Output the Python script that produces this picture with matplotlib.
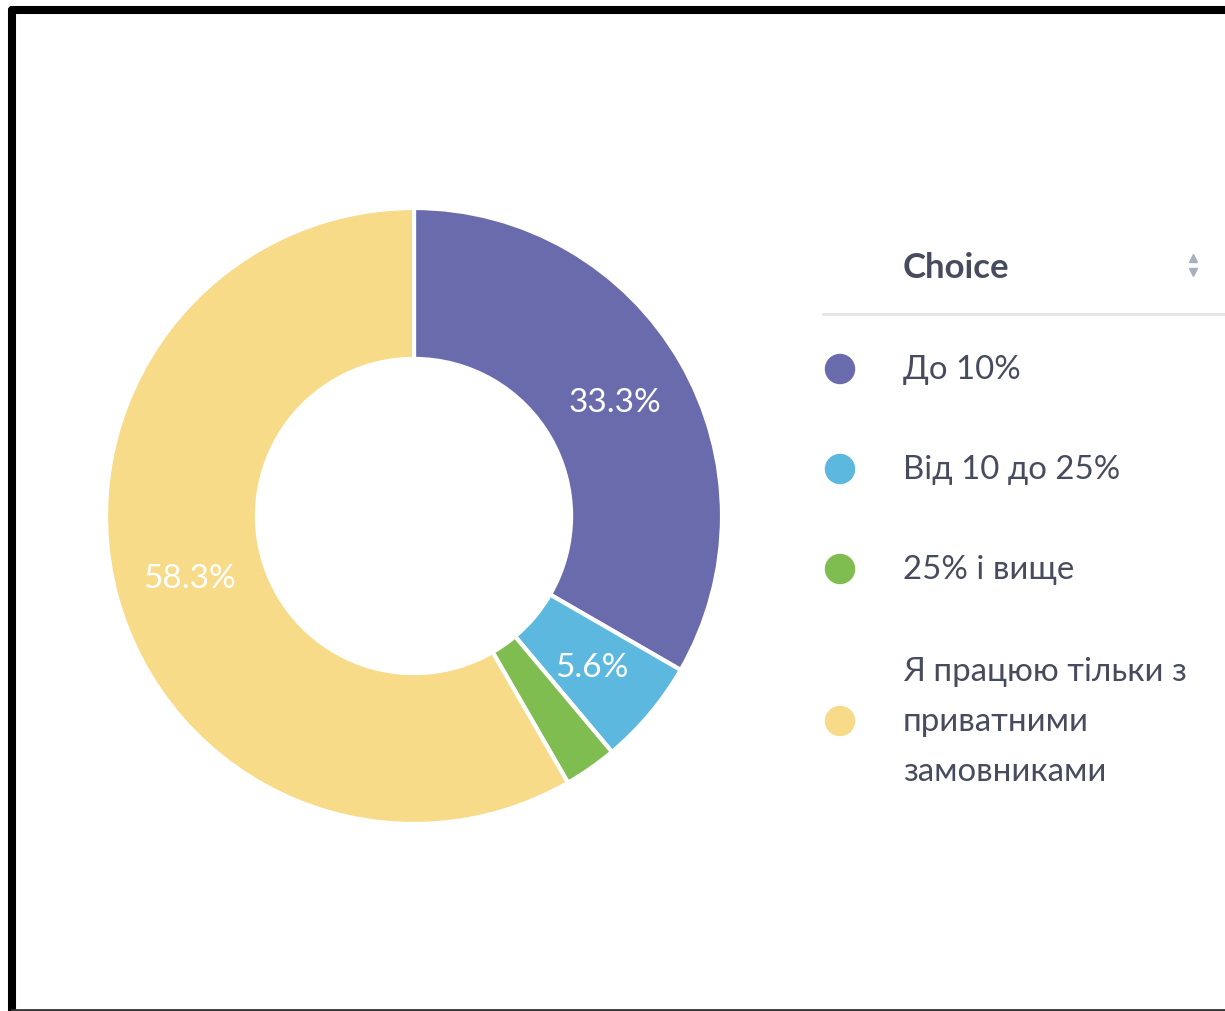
import matplotlib.pyplot as plt
import numpy as np

labels = ['До 10%', 'Від 10 до 25%', '25% і вище',
          'Я працюю тільки з\nприватними\nзамовниками']
counts = [12, 2, 1, 21]
colors = ['#6A6BAD', '#5DB8E0', '#80BD51', '#F8DB88']
header = 'Choice'

plt.rcParams['font.family'] = ['Lato', 'DejaVu Sans']

W, H = 1225, 1011
fig = plt.figure(figsize=(W / 100, H / 100), dpi=100)
ax = fig.add_axes([0, 0, 1, 1])

cx, cy, r = 414, H - 516, 308
total = sum(counts)


def fmt(p):
    return f'{p:.1f}%' if p >= 5 else ''


wedges, texts, autotexts = ax.pie(
    counts, colors=colors, startangle=90, counterclock=False,
    center=(cx, cy), radius=r, autopct=fmt, pctdistance=0.755,
    wedgeprops=dict(width=r * 0.49, edgecolor='white', linewidth=3),
    textprops=dict(color='white', fontsize=24))
for t in autotexts:
    t.set_va('baseline')
    t.set_y(t.get_position()[1] - 12)
ax.set_xlim(0, W)
ax.set_ylim(0, H)
ax.set_aspect('auto')
ax.axis('off')

# legend
text_col = '#474B5E'
ax.text(903, H - 265, header, fontsize=25, fontweight='bold', color=text_col,
        va='center_baseline', ha='left')
ax.plot([1193], [H - 258], marker='^', color='#A8B0BD', markersize=6)
ax.plot([1193], [H - 272], marker='v', color='#A8B0BD', markersize=6)
ax.plot([823, W], [H - 314, H - 314], color='#E3E5E8', lw=2)

ys = [369, 469, 569, 721]
for lab, col, y in zip(labels, colors, ys):
    ax.scatter([840], [H - y], s=480, color=col, edgecolors='none')
    ax.text(903, H - y - 1, lab, fontsize=23.8, color=text_col, va='center',
            ha='left', linespacing=1.84)

# frame around screenshot
ax.plot([12, 12], [H - 10, 0], color='black', lw=5.8, solid_capstyle='round')
ax.plot([12, W], [H - 10, H - 10], color='black', lw=5.8, solid_capstyle='round')
ax.plot([12, W], [1, 1], color='#333333', lw=2)

fig.savefig('out.png', dpi=100)
